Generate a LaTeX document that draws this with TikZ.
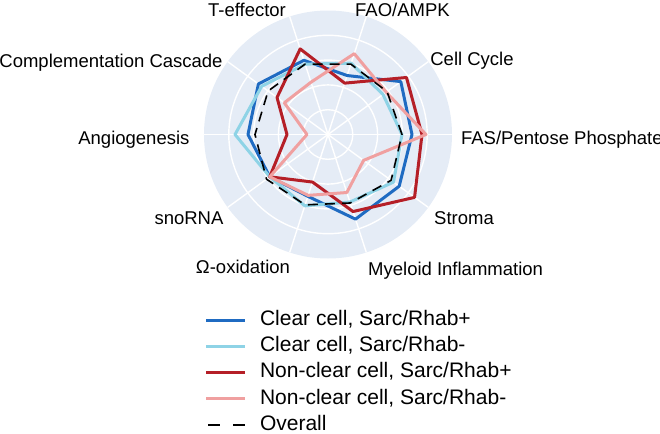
\documentclass[tikz,border=0pt]{standalone}
\usepackage{fontspec}
\setmainfont{Liberation Sans}
\usepackage{xcolor}
\usepackage{tikz}

\definecolor{polarbg}{HTML}{E5ECF6}
\definecolor{ccpos}{HTML}{1F6BC2}
\definecolor{ccneg}{HTML}{8ED3E6}
\definecolor{ncpos}{HTML}{B51F27}
\definecolor{ncneg}{HTML}{F0A0A0}

\begin{document}
\begin{tikzpicture}[x = 0.5pt, y = 0.5pt, line join = round,
  series/.style = {line width = 1.5pt},
  overall/.style = {black, line width = 0.8pt, dash pattern = on 5pt off 3.5pt},
  gridline/.style = {white, line width = 0.7pt},
  axislabel/.style = {font = \fontsize{9.25}{11}\selectfont, anchor = mid},
  legendtext/.style = {font = \fontsize{10.5}{12}\selectfont, anchor = mid west}]
\def\outerR{124}
\def\ringD{24.8}
\useasboundingbox (-328, -299.5) rectangle (332, 134.5);

% polar background
\fill [polarbg] (0, 0) circle (\outerR);
\foreach \r in {1, 2, 3, 4} \draw [gridline] (0, 0) circle (\r*\ringD);
\foreach \a in {0, 36, ..., 324} \draw [gridline] (0, 0) -- (\a:\outerR);

% series: FAS, cell cycle, FAO, T-eff, compl., angio, snoRNA, omega, myeloid, stroma
\draw [series, ccpos] plot coordinates {(0:84) (36:90) (72:62) (108:78) (144:86) (180:80) (216:72) (252:65) (288:89) (324:88)} -- cycle;
\draw [series, ccneg] plot coordinates {(0:74) (36:68) (72:75) (108:74) (144:82) (180:93) (216:72) (252:75) (288:71) (324:81)} -- cycle;
\draw [series, ncpos] plot coordinates {(0:94) (36:97) (72:54) (108:90) (144:63) (180:41) (216:72) (252:50) (288:81) (324:107)} -- cycle;
\draw [series, ncneg] plot coordinates {(0:98) (36:72) (72:85) (108:55) (144:54) (180:21) (216:72) (252:64) (288:61) (324:44)} -- cycle;
\draw [overall] plot coordinates {(0:74) (36:73) (72:74) (108:74) (144:74) (180:73) (216:76) (252:74) (288:72) (324:78)} -- cycle;

% axis labels
\node [axislabel] (teff) at (-81, 123.5) {T-effector};
\node [axislabel] (fao) at (74.5, 123.5) {FAO/AMPK};
\node [axislabel] (cellcyc) at (144, 74.5) {Cell Cycle};
\node [axislabel, anchor = mid west] (fas) at (126, -4.5) {FAS/Pentose Phosphate};
\node [axislabel] (stroma) at (136, -84.5) {Stroma};
\node [axislabel] (myeloid) at (127.6, -135.5) {Myeloid Inflammation};
\node [axislabel] (omega) at (-85, -133.5) {Ω-oxidation};
\node [axislabel] (snorna) at (-139, -84.5) {snoRNA};
\node [axislabel, anchor = mid east] (angio) at (-131.5, -4.5) {Angiogenesis};
\node [axislabel] (compl) at (-217, 72.5) {Complementation Cascade};

% legend
\foreach \col/\txt [count = \i] in {ccpos/{Clear cell, Sarc/Rhab+}, ccneg/{Clear cell, Sarc/Rhab-}, ncpos/{Non-clear cell, Sarc/Rhab+}, ncneg/{Non-clear cell, Sarc/Rhab-}}
{
  \node [legendtext] (leg\i) at (-75, -185.5 - 26.25*\i + 26.25) {\txt};
  \draw [series, \col] ([xshift = -4pt]leg\i.mid west) -- ++(-39, 0);
}
\node [legendtext] (leg5) at (-75, -290.5) {Overall};
\draw [black, line width = 0.8pt, dash pattern = on 6pt off 6.5pt] ([xshift = -4pt]leg5.mid west) -- ++(-39, 0);
\end{tikzpicture}
\end{document}
